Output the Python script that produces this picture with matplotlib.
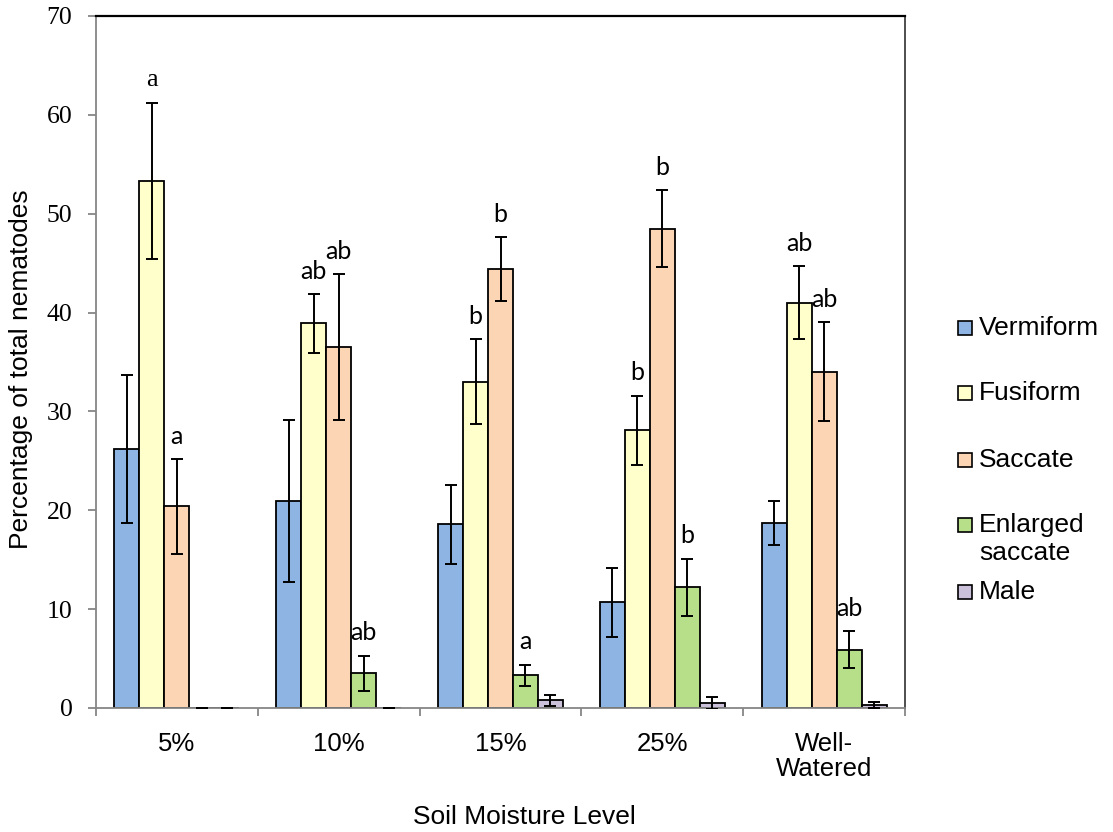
import numpy as np
import matplotlib.pyplot as plt
from matplotlib.patches import Rectangle

levels = ['5%', '10%', '15%', '25%', 'Well-\nWatered']
series = ['Vermiform', 'Fusiform', 'Saccate', 'Enlarged\nsaccate', 'Male']
colors = ['#8EB4E3', '#FFFFCC', '#FCD5B5', '#B7DE88', '#CCC1DA']

vermiform = [26.2, 20.9, 18.6, 10.7, 18.7]
vermiform_err = [7.5, 8.2, 4.0, 3.5, 2.2]
fusiform = [53.3, 38.9, 33.0, 28.1, 41.0]
fusiform_err = [7.9, 3.0, 4.3, 3.5, 3.7]
saccate = [20.4, 36.5, 44.4, 48.5, 34.0]
saccate_err = [4.8, 7.4, 3.2, 3.9, 5.0]
enlarged = [0, 3.5, 3.3, 12.2, 5.9]
enlarged_err = [0, 1.8, 1.1, 2.9, 1.9]
male = [0, 0, 0.8, 0.5, 0.3]
male_err = [0, 0, 0.55, 0.6, 0.35]

# significance letters: (series index, level index, letter)
letters = [(1, 0, 'a'), (2, 0, 'a'),
           (1, 1, 'ab'), (2, 1, 'ab'), (3, 1, 'ab'),
           (1, 2, 'b'), (2, 2, 'b'), (3, 2, 'a'),
           (1, 3, 'b'), (2, 3, 'b'), (3, 3, 'b'),
           (1, 4, 'ab'), (2, 4, 'ab'), (3, 4, 'ab')]

values = [vermiform, fusiform, saccate, enlarged, male]
errors = [vermiform_err, fusiform_err, saccate_err, enlarged_err, male_err]

W, H = 1113, 832
fig = plt.figure(figsize=(W / 100, H / 100), dpi=100)
ax = fig.add_axes([96 / W, 1 - 708 / H, 809 / W, 692 / H])

x = np.arange(len(levels))
width = 0.1545
for j in range(len(series)):
    xs = x + (j - 2) * width
    ax.bar(xs, values[j], width, color=colors[j], edgecolor='black',
           linewidth=1.3, zorder=2)
    ax.errorbar(xs, values[j], yerr=errors[j], fmt='none', ecolor='black',
                elinewidth=1.4, capsize=4.2, capthick=1.4, zorder=3)

for s, g, txt in letters:
    top = values[s][g] + errors[s][g]
    if (s, g) == (1, 0):
        fam, fs = 'Liberation Serif', 19
    else:
        fam, fs = 'Lato', 18
    ax.text(x[g] + (s - 2) * width, top + 2.3, txt, ha='center', va='center',
            fontsize=fs, family=fam)

ax.set_xlim(-0.5, 4.5)
ax.set_ylim(0, 70)
ax.set_yticks(range(0, 71, 10))
ax.set_xticks(x)
ax.set_xticklabels(levels, family='Liberation Sans', fontsize=18.5)
for lbl in ax.get_xticklabels():
    lbl.set_linespacing(1.05)
ax.set_xticks(np.arange(-0.5, 5, 1), minor=True)
ax.tick_params(axis='x', which='major', length=0, pad=17)
ax.tick_params(axis='x', which='minor', length=6, width=1.3, color='#868686',
               direction='out')
ax.tick_params(axis='y', length=6, width=1.3, color='#868686', pad=11,
               labelsize=18.5)
for lbl in ax.get_yticklabels():
    lbl.set_family('Liberation Serif')

ax.spines['left'].set_color('#868686')
ax.spines['bottom'].set_color('#868686')
ax.spines['left'].set_linewidth(1.3)
ax.spines['bottom'].set_linewidth(1.3)
ax.spines['top'].set_color('black')
ax.spines['top'].set_linewidth(1.6)
ax.spines['right'].set_color('#404040')
ax.spines['right'].set_linewidth(1.3)

ax.set_ylabel('Percentage of total nematodes', family='Liberation Sans',
              fontsize=19)
ax.yaxis.set_label_coords(-0.078, 0.49)
ax.set_xlabel('Soil Moisture Level', family='Liberation Sans', fontsize=19)
ax.xaxis.set_label_coords(0.53, -0.14)

# legend drawn by hand to match the uneven spacing
leg_y = [328, 393, 460, 525, 592]
for name, col, yy in zip(series, colors, leg_y):
    fig.add_artist(Rectangle((958 / W, 1 - (yy + 7) / H), 14 / W, 14 / H,
                             facecolor=col, edgecolor='black', linewidth=1.2,
                             transform=fig.transFigure))
    first = name.split('\n')[0]
    fig.text(979 / W, 1 - yy / H, first, ha='left', va='center',
             family='Liberation Sans', fontsize=19)
    if '\n' in name:
        fig.text(979 / W, 1 - (yy + 28) / H, name.split('\n')[1], ha='left',
                 va='center', family='Liberation Sans', fontsize=19)

fig.savefig('out.png', dpi=100)
